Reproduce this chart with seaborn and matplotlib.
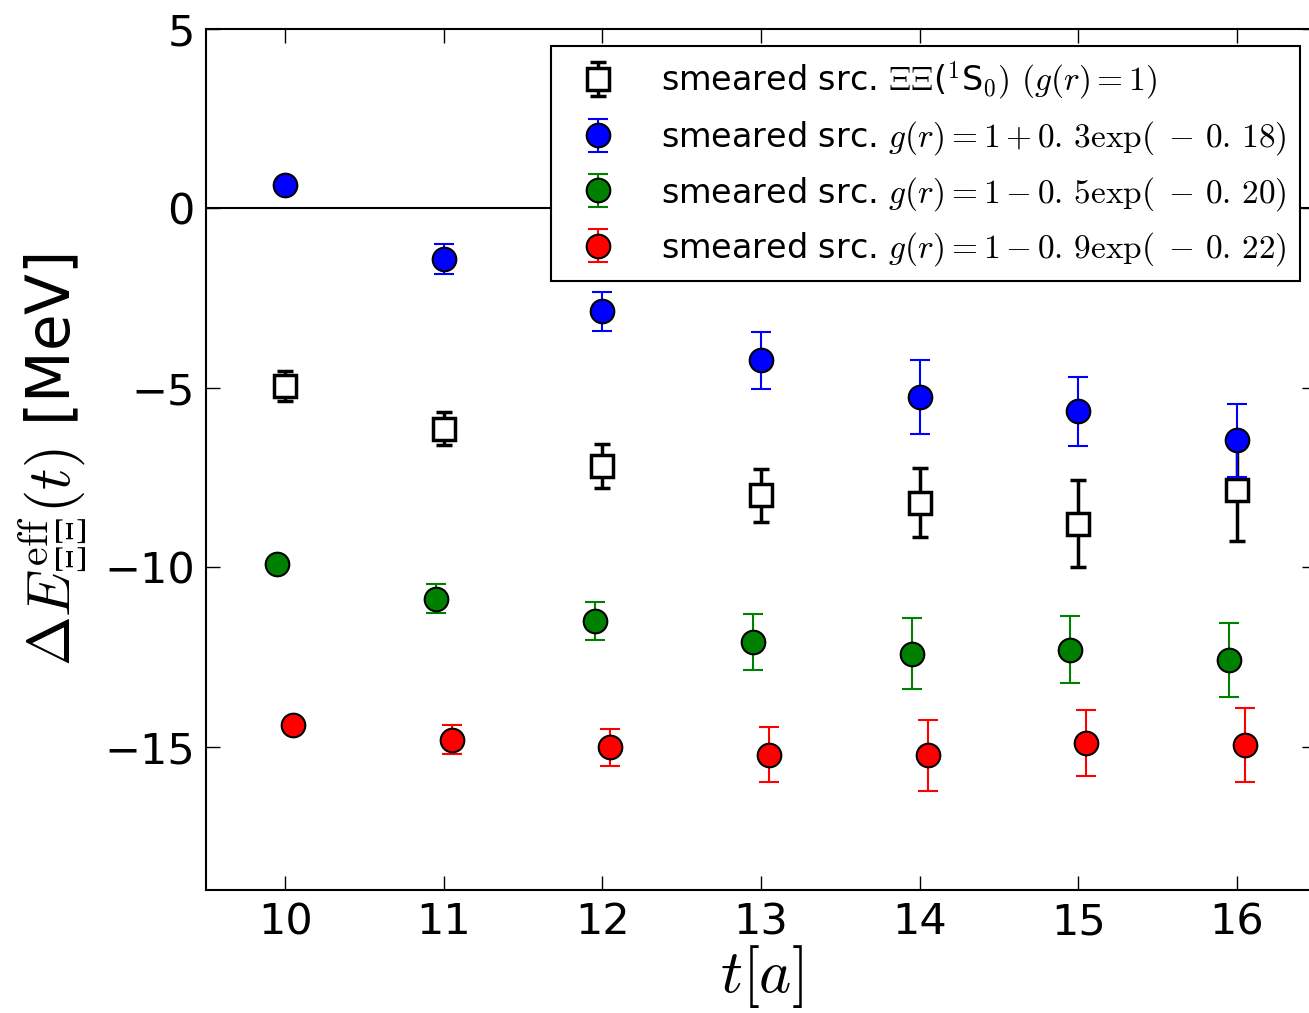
import numpy as np
import matplotlib
matplotlib.use("Agg")
import matplotlib.pyplot as plt
import seaborn as sns

# time slices
t = np.array([10, 11, 12, 13, 14, 15, 16])

# smeared src, g(r)=1
e_flat = [-4.96, -6.14, -7.18, -8.00, -8.20, -8.79, -7.84]
err_flat = [0.42, 0.46, 0.61, 0.73, 0.96, 1.22, 1.42]

# g(r)=1+0.3exp(-0.18)
e_blue = [0.64, -1.42, -2.87, -4.24, -5.26, -5.66, -6.47]
err_blue = [0.12, 0.42, 0.54, 0.80, 1.03, 0.97, 1.02]

# g(r)=1-0.5exp(-0.20)
e_green = [-9.92, -10.88, -11.49, -12.09, -12.42, -12.30, -12.58]
err_green = [0.12, 0.41, 0.53, 0.77, 0.99, 0.94, 1.03]

# g(r)=1-0.9exp(-0.22)
e_red = [-14.39, -14.81, -15.02, -15.23, -15.25, -14.90, -14.95]
err_red = [0.12, 0.41, 0.52, 0.77, 0.98, 0.93, 1.03]

labels = [
    r'smeared src. $\Xi\Xi$($^1$S$_0)$ $(g(r)=1)$',
    r'smeared src. $g(r)=1+0.\,3\mathrm{exp}(\;-\,0.\,18)$',
    r'smeared src. $g(r)=1-0.\,5\mathrm{exp}(\;-\,0.\,20)$',
    r'smeared src. $g(r)=1-0.\,9\mathrm{exp}(\;-\,0.\,22)$',
]

sns.set_style("ticks")
plt.rcParams['font.family'] = ['DejaVu Sans']
plt.rcParams['mathtext.fontset'] = 'cm'
for k in ['text.color', 'axes.labelcolor', 'xtick.color', 'ytick.color']:
    plt.rcParams[k] = 'black'

fig = plt.figure(figsize=(13.09, 10.13), dpi=100)
ax = fig.add_axes([0.1574, 0.1214, 0.848, 0.85])

ax.axhline(0, color='black', lw=1.5, zorder=1)

ax.errorbar(t, e_flat, yerr=err_flat, fmt='s', ms=16, mfc='white', mec='black',
            mew=2.5, ecolor='black', elinewidth=2.5, capsize=6, capthick=2.5,
            label=labels[0], zorder=3)
ax.errorbar(t, e_blue, yerr=err_blue, fmt='o', ms=17, mfc='blue', mec='black',
            mew=1.5, ecolor='blue', elinewidth=1.5, capsize=7, capthick=1.5,
            label=labels[1], zorder=4)
ax.errorbar(t - 0.05, e_green, yerr=err_green, fmt='o', ms=17, mfc='green', mec='black',
            mew=1.5, ecolor='green', elinewidth=1.5, capsize=7, capthick=1.5,
            label=labels[2], zorder=4)
ax.errorbar(t + 0.05, e_red, yerr=err_red, fmt='o', ms=17, mfc='red', mec='black',
            mew=1.5, ecolor='red', elinewidth=1.5, capsize=7, capthick=1.5,
            label=labels[3], zorder=4)

ax.set_xlim(9.5, 16.5)
ax.set_ylim(-19, 5)
ax.set_xticks(t)
ax.set_yticks([-15, -10, -5, 0, 5])

ax.tick_params(direction='in', length=10, width=1, labelsize=31, pad=8,
               top=True, right=True)
for sp in ax.spines.values():
    sp.set_linewidth(1.5)
    sp.set_color('black')

ax.set_xlabel(r'$t[a]$', fontsize=44, labelpad=0)
ax.set_ylabel(r'$\Delta E^{\rm eff}_{\Xi\Xi}(t)$ [MeV]', fontsize=43, labelpad=12)

leg = ax.legend(loc='upper right', bbox_to_anchor=(0.9856, 0.980), borderaxespad=0,
                fontsize=24, numpoints=1, fancybox=False, framealpha=1,
                edgecolor='black', handletextpad=0.9, borderpad=0.4,
                labelspacing=0.52)
leg.get_frame().set_linewidth(1.5)

fig.savefig('out.png', dpi=100)
